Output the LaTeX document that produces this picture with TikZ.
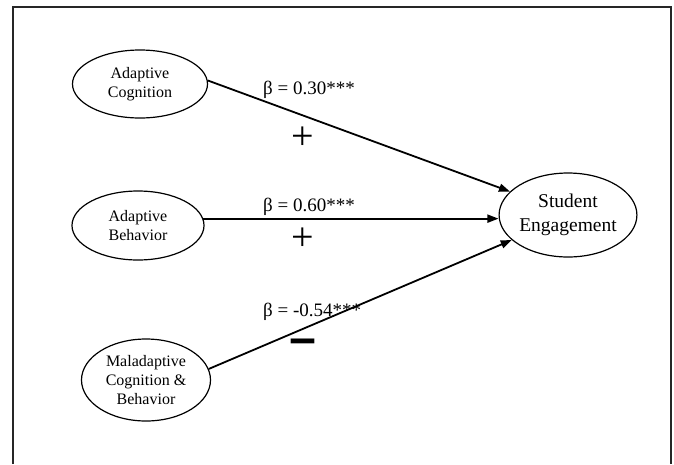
\documentclass[tikz,border=0pt]{standalone}
\usepackage{fontspec}
\setmainfont{Liberation Serif}
\usetikzlibrary{arrows.meta}
\usetikzlibrary{shapes.geometric}
\colorlet{framegray}{black!85}

\begin{document}
\begin{tikzpicture}[x=1pt,y=-1pt,
    factor/.style={ellipse,draw,line width=1.2pt,inner sep=0pt,align=center,font=\fontsize{16}{19}\selectfont},
    effect/.style={line width=1.8pt,-{Triangle[length=11pt,width=8pt]}},
    coef/.style={anchor=base west,inner sep=0pt,font=\fontsize{19}{23}\selectfont},
    sign/.style={inner sep=0pt,font=\fontsize{40}{40}\selectfont}]
\useasboundingbox (0,0) rectangle (674,464);
\draw[framegray,line width=2.2pt] (13,464) -- (13,7) -- (671,7) -- (671,464);
% predictors
\node[factor,minimum width=135pt,minimum height=68pt] (cog) at (140,84) {Adaptive\\Cognition};
\node[factor,minimum width=132pt,minimum height=69pt] (beh) at (138,225.5) {Adaptive\\Behavior};
\node[factor,minimum width=129pt,minimum height=82pt] (mal) at (146,380) {Maladaptive\\Cognition \&\\Behavior};
% outcome
\node[factor,minimum width=129pt,minimum height=84pt,font=\fontsize{19.5}{24}\selectfont] (eng) at (568,215) {Student\\Engagement};
\draw[effect] (cog.3) -- (eng.158);
\draw[effect] (beh.6) -- (beh.6 -| eng.west);
\draw[effect] (mal.10) -- (eng.204);
\node[coef] (b1) at (263,94) {β = 0.30***};
\node[coef] (b2) at (263,211) {β = 0.60***};
\node[coef] (b3) at (263,316) {β = -0.54***};
\node[sign] (s1) at (303,138) {+};
\node[sign] (s2) at (303,239) {+};
\node[sign,font=\fontsize{46}{46}\selectfont\bfseries] (s3) at (303,348) {\scalebox{1}[1.5]{–}};
\end{tikzpicture}
\end{document}
